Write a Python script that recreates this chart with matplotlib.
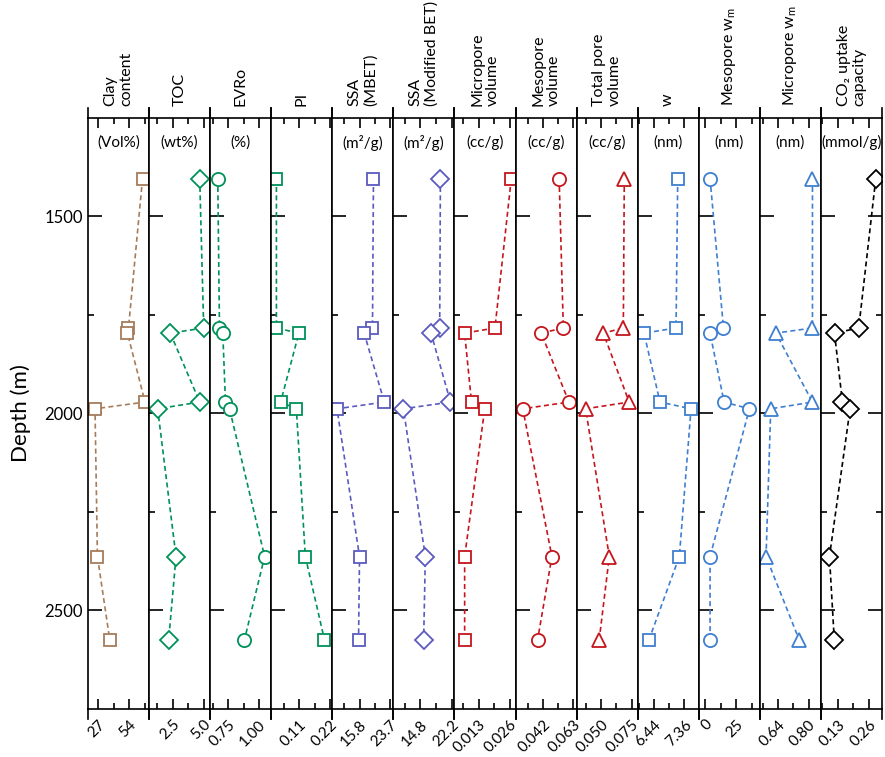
import matplotlib
matplotlib.use("Agg")
import matplotlib.pyplot as plt
from matplotlib.ticker import FixedLocator

plt.rcParams.update({
    "font.family": ["Lato", "DejaVu Sans"],
    "mathtext.fontset": "custom",
    "mathtext.rm": "Lato",
    "mathtext.it": "Lato:italic",
    "axes.linewidth": 1.2,
})

# ── Data: sample depths (m) and the 13 measured properties ─────────────────────
depth = [1404, 1783, 1796, 1971, 1988, 2363, 2574]

clay       = [65.7, 53.5, 52.6, 67.9, 24.4, 26.5, 37.2]
toc        = [4.68, 5.00, 2.31, 4.68, 1.29, 2.77, 2.18]
evro       = [0.665, 0.679, 0.706, 0.728, 0.761, 1.047, 0.883]
pi         = [0.028, 0.028, 0.108, 0.043, 0.099, 0.131, 0.199]
ssa_mbet   = [19.4, 19.15, 17.0, 22.2, 9.98, 15.8, 15.55]
ssa_mod    = [19.57, 19.4, 17.35, 21.96, 10.81, 16.0, 15.6]
micro_vol  = [0.0267, 0.0198, 0.0070, 0.0099, 0.0155, 0.0070, 0.0070]
meso_vol   = [0.0532, 0.0561, 0.0408, 0.0600, 0.0280, 0.0482, 0.0383]
total_vol  = [0.0690, 0.0682, 0.0519, 0.0730, 0.0375, 0.0568, 0.0486]
w          = [7.159, 7.108, 6.136, 6.622, 7.563, 7.208, 6.288]
meso_wm    = [4.0, 14.8, 4.0, 15.3, 35.7, 4.0, 4.0]
micro_wm   = [0.821, 0.821, 0.626, 0.821, 0.599, 0.574, 0.750]
co2        = [0.288, 0.217, 0.116, 0.149, 0.181, 0.095, 0.115]

titles = ["Clay\ncontent", "TOC", "EVRo", "PI", "SSA\n(MBET)",
          "SSA\n(Modified BET)", "Micropore\nvolume", "Mesopore\nvolume",
          "Total pore\nvolume", "w", r"Mesopore w$_{\rm m}$",
          r"Micropore w$_{\rm m}$", "CO\u2082 uptake\ncapacity"]
units = ["(Vol%)", "(wt%)", "(%)", "", "(m²/g)", "(m²/g)", "(cc/g)",
         "(cc/g)", "(cc/g)", "(nm)", "(nm)", "(nm)", "(mmol/g)"]
major_ticks = [[27, 54], [2.5, 5.0], [0.75, 1.00], [0.11, 0.22],
               [15.8, 23.7], [14.8, 22.2], [0.013, 0.026], [0.042, 0.063],
               [0.050, 0.075], [6.44, 7.36], [0, 25], [0.64, 0.80],
               [0.13, 0.26]]
tick_labels = [["27", "54"], ["2.5", "5.0"], ["0.75", "1.00"],
               ["0.11", "0.22"], ["15.8", "23.7"], ["14.8", "22.2"],
               ["0.013", "0.026"], ["0.042", "0.063"], ["0.050", "0.075"],
               ["6.44", "7.36"], ["0", "25"], ["0.64", "0.80"],
               ["0.13", "0.26"]]

series = [clay, toc, evro, pi, ssa_mbet, ssa_mod, micro_vol, meso_vol,
          total_vol, w, meso_wm, micro_wm, co2]

# ── Styling per panel ──────────────────────────────────────────────────────────
BROWN, GREEN, PURPLE = "#a67c5b", "#009159", "#5b5bbf"
RED, BLUE, BLACK = "#c4161c", "#3f7fd0", "#000000"
colors  = [BROWN, GREEN, GREEN, GREEN, PURPLE, PURPLE, RED, RED, RED,
           BLUE, BLUE, BLUE, BLACK]
markers = ["s", "D", "o", "s", "s", "D", "s", "o", "^", "s", "o", "^", "D"]
xlims = [(18.3, 71.4), (0.6, 5.52), (0.603, 1.101), (0.0096, 0.227),
         (8.77, 24.55), (8.43, 22.9), (0.0027, 0.0285), (0.023, 0.0653),
         (0.0302, 0.0799), (5.945, 7.797), (-5.1, 44.1), (0.541, 0.866),
         (0.0594, 0.314)]

W, H = 885, 757
fig = plt.figure(figsize=(W / 100, H / 100), dpi=100)
left, right, top, bottom = 88, 882, 118, 709
n = len(series)
pw = (right - left) / n

for i in range(n):
    ax = fig.add_axes([(left + i * pw) / W, 1 - bottom / H, pw / W,
                       (bottom - top) / H])
    ms = {"s": 8.5, "o": 9.5, "D": 9.5, "^": 10}[markers[i]]
    ax.plot(series[i], depth, ls=(0, (3, 2)), lw=1.2, color=colors[i],
            marker=markers[i], ms=ms, mfc="white", mec=colors[i], mew=1.3)
    ax.set_xlim(*xlims[i])
    ax.set_ylim(2750, 1250)

    mj = major_ticks[i]
    step = (mj[1] - mj[0]) / 2
    mn = [mj[0] - step, mj[0] + step, mj[1] + step]
    ax.xaxis.set_major_locator(FixedLocator(mj))
    ax.xaxis.set_minor_locator(FixedLocator(mn))
    ax.set_xticklabels(tick_labels[i], rotation=45, ha="right",
                       rotation_mode="anchor", fontsize=11)
    ax.tick_params(axis="x", which="both", direction="in", top=True,
                   width=1.2, pad=6)
    ax.tick_params(axis="x", which="major", length=7)
    ax.tick_params(axis="x", which="minor", length=4)

    ax.yaxis.set_major_locator(FixedLocator([1500, 2000, 2500]))
    ax.yaxis.set_minor_locator(FixedLocator([1750, 2250]))
    ax.tick_params(axis="y", which="both", direction="in", width=1.2,
                   right=(i == n - 1), labelleft=(i == 0), labelsize=12)
    ax.tick_params(axis="y", which="major", length=10)
    ax.tick_params(axis="y", which="minor", length=4)
    if i == 0:
        ax.set_ylabel("Depth (m)", fontsize=16, labelpad=10)

    # panel separators poke out above and below the frame
    ext = 10 / (bottom - top)
    for xa in (0, 1):
        ax.plot([xa, xa], [1, 1 + ext], transform=ax.transAxes, color="black",
                lw=1.2, clip_on=False)
        ax.plot([xa, xa], [0, -ext], transform=ax.transAxes, color="black",
                lw=1.2, clip_on=False)

    if units[i]:
        ax.text(0.5, 0.958, units[i], transform=ax.transAxes, ha="center",
                va="center", fontsize=11)
    ax.text(0.5, 1 + 12 / (bottom - top), titles[i], transform=ax.transAxes,
            rotation=90, ha="center", va="bottom", multialignment="left",
            fontsize=11.5, linespacing=1.15)

fig.savefig("out.png", dpi=100)
